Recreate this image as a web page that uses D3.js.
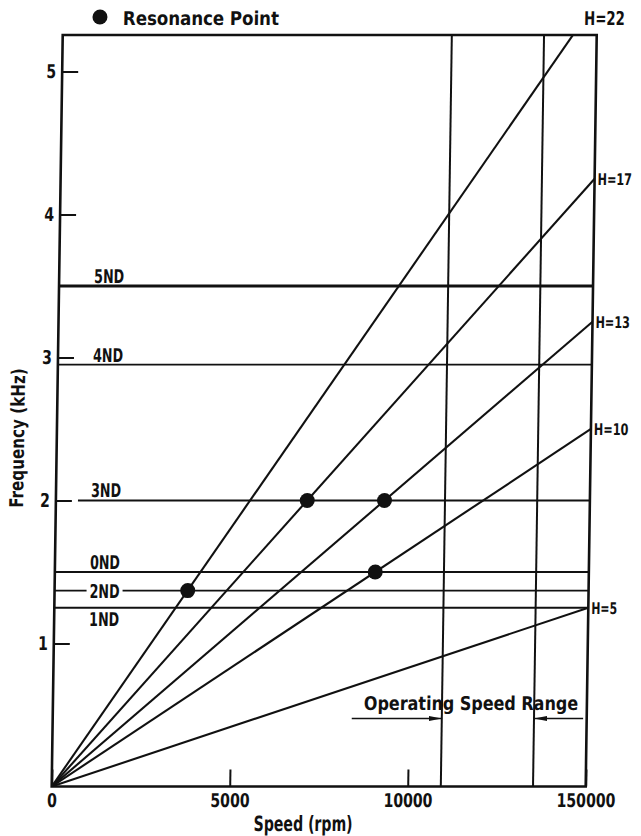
<!DOCTYPE html>
<html>
<head>
<meta charset="utf-8">
<script src="https://cdn.jsdelivr.net/npm/d3@7"></script>
<style>
  body { margin: 0; background: #fff; }
  svg text {
    font-family: "Liberation Sans Narrow", "DejaVu Sans Condensed", "Liberation Sans", sans-serif;
    font-weight: bold;
    fill: #111;
  }
</style>
</head>
<body>
<svg id="chart"></svg>
<script>
// excitation orders and their frequency (kHz) at 15000 rpm
var harmonics = [5, 10, 13, 17, 22];
var harmEnd = [1.25, 2.5, 3.25, 4.25, 5.5];

// nodal diameter modes (kHz)
var modeNames = ["1ND", "2ND", "0ND", "3ND", "4ND", "5ND"];
var modeFreqs = [1.25, 1.37, 1.5, 2.0, 2.95, 3.5];
var modeStart = [0, 0, 0, 620, 0, 0];   // rpm where the mode line starts

// resonance points
var resSpeed = [3740, 7060, 9230, 9000];
var resFreq = [1.37, 2.0, 2.0, 1.5];

// operating speed range (rpm)
var opRange = [10930, 13520];

var xTicks = [0, 5000, 10000, 15000];
var xTickLabels = ["0", "5000", "10000", "150000"];
var yTicks = [1, 2, 3, 4, 5];

var width = 641, height = 836;
var pLeft = 51.7, pRight = 585.7, pTop = 35, pBottom = 786.5;
var ink = "#111";

var svg = d3.select("#chart")
    .attr("width", width)
    .attr("height", height);

// the scanned original leans slightly, so shear everything about the x axis
var root = svg.append("g")
    .attr("transform", "translate(0," + pBottom + ") skewX(-0.84) translate(0," + (-pBottom) + ")");

var x = d3.scaleLinear().domain([0, 15000]).range([pLeft, pRight]);
var y = d3.scaleLinear().domain([0, 5.255]).range([pBottom, pTop]);

// squeeze text into the narrow typewriter look
function fit(sel, cell) {
    sel.each(function () {
        var t = d3.select(this);
        t.attr("textLength", t.text().length * cell).attr("lengthAdjust", "spacingAndGlyphs");
    });
}

var defs = svg.append("defs");
defs.append("clipPath").attr("id", "plotclip")
    .append("rect")
    .attr("x", pLeft).attr("y", pTop)
    .attr("width", pRight - pLeft).attr("height", pBottom - pTop);

defs.append("marker")
    .attr("id", "arrow")
    .attr("viewBox", "0 0 13 6")
    .attr("refX", 13).attr("refY", 3)
    .attr("markerWidth", 13).attr("markerHeight", 6)
    .attr("markerUnits", "userSpaceOnUse")
    .attr("orient", "auto")
    .append("path")
    .attr("d", "M0,0.5 L13,3 L0,5.5 Z")
    .attr("fill", ink);

// mode lines
var place = { "1ND": "below", "2ND": "middle" };
var labelX = pLeft + 50;
modeNames.forEach(function (name, i) {
    var yy = y(modeFreqs[i]);
    var sw = name == "5ND" ? 3 : 1.8;
    if (place[name] == "middle") {
        root.append("line")
            .attr("x1", x(modeStart[i])).attr("x2", labelX - 18)
            .attr("y1", yy).attr("y2", yy)
            .attr("stroke", ink).attr("stroke-width", sw);
        root.append("line")
            .attr("x1", labelX + 18).attr("x2", pRight)
            .attr("y1", yy).attr("y2", yy)
            .attr("stroke", ink).attr("stroke-width", sw);
    } else {
        root.append("line")
            .attr("x1", x(modeStart[i])).attr("x2", pRight)
            .attr("y1", yy).attr("y2", yy)
            .attr("stroke", ink).attr("stroke-width", sw);
    }
    var ty = place[name] == "below" ? yy + 18 : place[name] == "middle" ? yy + 7 : yy - 3;
    root.append("text")
        .attr("x", labelX).attr("y", ty)
        .attr("text-anchor", "middle")
        .style("font-size", "19px")
        .text(name)
        .call(fit, 10);
});

// operating speed range
opRange.forEach(function (s) {
    root.append("line")
        .attr("x1", x(s)).attr("x2", x(s))
        .attr("y1", pBottom).attr("y2", pTop)
        .attr("stroke", ink).attr("stroke-width", 2);
});
var arrowY = y(0.475);
root.append("line")
    .attr("x1", x(8400)).attr("x2", x(opRange[0]))
    .attr("y1", arrowY).attr("y2", arrowY)
    .attr("stroke", ink).attr("stroke-width", 1.6)
    .attr("marker-end", "url(#arrow)");
root.append("line")
    .attr("x1", x(14900)).attr("x2", x(opRange[1]))
    .attr("y1", arrowY).attr("y2", arrowY)
    .attr("stroke", ink).attr("stroke-width", 1.6)
    .attr("marker-end", "url(#arrow)");
root.append("text")
    .attr("x", x(opRange[0]) + 29).attr("y", 710)
    .attr("text-anchor", "middle")
    .style("font-size", "19px")
    .text("Operating Speed Range")
    .call(fit, 10.2);

// harmonic lines
var line = d3.line()
    .x(function (d) { return x(d[0]); })
    .y(function (d) { return y(d[1]); });

var hg = root.append("g").attr("clip-path", "url(#plotclip)");
harmonics.forEach(function (h, i) {
    hg.append("path")
        .attr("d", line([[0, 0], [15000, harmEnd[i]]]))
        .attr("fill", "none")
        .attr("stroke", ink)
        .attr("stroke-width", 2.1);
});

harmonics.forEach(function (h, i) {
    var fTop = y.domain()[1];
    var t = root.append("text")
        .text("H=" + h);
    if (harmEnd[i] > fTop) {
        var sTop = 15000 * fTop / harmEnd[i];
        t.style("font-size", "19px")
            .attr("x", x(sTop) + 11).attr("y", 25);
        t.call(fit, 10.2);
    } else {
        t.style("font-size", "16px")
            .attr("x", pRight + 3).attr("y", y(harmEnd[i]) + 6);
        t.call(fit, 8.6);
    }
});

// resonance points
root.selectAll("circle.res")
    .data(resSpeed)
    .enter().append("circle")
    .attr("class", "res")
    .attr("cx", function (d) { return x(d); })
    .attr("cy", function (d, i) { return y(resFreq[i]); })
    .attr("r", 7.5)
    .attr("fill", ink);

// frame
root.append("rect")
    .attr("x", pLeft).attr("y", pTop)
    .attr("width", pRight - pLeft).attr("height", pBottom - pTop)
    .attr("fill", "none")
    .attr("stroke", ink)
    .attr("stroke-width", 2.6);

// axes, ticks pointing inward
var yAxis = root.append("g")
    .attr("transform", "translate(" + pLeft + ",0)")
    .call(d3.axisLeft(y).tickValues(yTicks).tickSize(-16).tickPadding(6).tickFormat(d3.format("d")));
var xAxis = root.append("g")
    .attr("transform", "translate(0," + pBottom + ")")
    .call(d3.axisBottom(x).tickValues(xTicks).tickSize(-17).tickPadding(7)
        .tickFormat(function (d, i) { return xTickLabels[i]; }));

[yAxis, xAxis].forEach(function (ax) {
    ax.select(".domain").remove();
    ax.attr("font-family", null).attr("font-size", null);
    ax.selectAll(".tick line").attr("stroke", ink).attr("stroke-width", 2);
    ax.selectAll(".tick text")
        .attr("fill", ink)
        .style("font-size", "19px")
        .call(fit, 9.8);
});

// axis titles
root.append("text")
    .attr("transform", "translate(19,438) rotate(-90)")
    .attr("text-anchor", "middle")
    .style("font-size", "19px")
    .text("Frequency (kHz)")
    .call(fit, 9.3);

root.append("text")
    .attr("x", (pLeft + pRight) / 2 - 15).attr("y", 831)
    .attr("text-anchor", "middle")
    .style("font-size", "21px")
    .text("Speed (rpm)")
    .call(fit, 9);

// legend
root.append("circle")
    .attr("cx", 88.7).attr("cy", 17)
    .attr("r", 7.5)
    .attr("fill", ink);
root.append("text")
    .attr("x", 111.7).attr("y", 25)
    .style("font-size", "19px")
    .text("Resonance Point")
    .call(fit, 10.4);
</script>
</body>
</html>
